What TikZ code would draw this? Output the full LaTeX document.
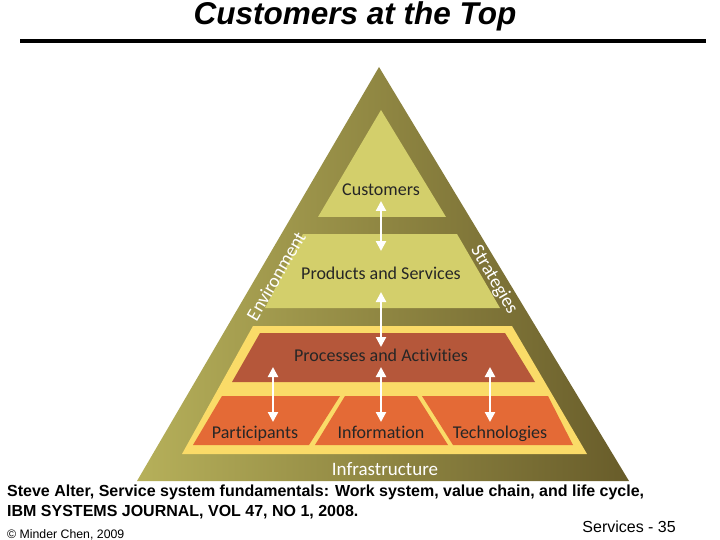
\documentclass[tikz,border=0pt]{standalone}
\usepackage{fontspec}
\setmainfont{Liberation Sans}
\newfontfamily\pyrfont[Ligatures=NoCommon]{Carlito}
\usetikzlibrary{arrows.meta}
\definecolor{oliveL}{HTML}{B6B05A}
\definecolor{oliveD}{HTML}{685C2A}
\definecolor{paleolive}{HTML}{D3CF6B}
\definecolor{bandyellow}{HTML}{FADB68}
\definecolor{procred}{HTML}{B5573A}
\definecolor{partorange}{HTML}{E46A36}
\tikzset{
  lbl/.style={font=\pyrfont\fontsize{18}{20}\selectfont, text=black!85, inner sep=0pt, anchor=base},
  sidelbl/.style={font=\pyrfont\fontsize{19}{21}\selectfont, text=white, inner sep=0pt},
  biarrow/.style={white, line width=2.2pt, {Triangle[width=10pt,length=10pt]}-{Triangle[width=10pt,length=10pt]}},
  footnote/.style={anchor=base west, inner sep=0pt, font=\bfseries\fontsize{16}{18}\selectfont},
}

\begin{document}
\begin{tikzpicture}[x=1pt,y=-1pt]
  \useasboundingbox (0,0) rectangle (720,540);

  % title and rule
  \node (title) at (355,16) {\fontsize{31.5}{34}\selectfont\bfseries\itshape Customers at the Top};
  \draw[line width=4pt] (20,41) -- (706,41);

  % pyramid frame
  \shade[left color=oliveL, right color=oliveD] (379,67) -- (629,481) -- (137,481) -- cycle;

  % upper levels
  \fill[paleolive] (381,110) -- (446,217) -- (318,217) -- cycle;
  \fill[paleolive] (303,234) -- (457,234) -- (500,308) -- (265,308) -- cycle;

  % work system
  \fill[bandyellow] (253,326) -- (512,326) -- (587,454) -- (182,454) -- cycle;
  \fill[procred] (260,333) -- (505,333) -- (535,382) -- (232,382) -- cycle;
  \fill[partorange] (222,396) -- (340,396) -- (309,445) -- (193,445) -- cycle;
  \fill[partorange] (345,396) -- (417,396) -- (448,445) -- (315,445) -- cycle;
  \fill[partorange] (422,396) -- (548,396) -- (573,445) -- (453,445) -- cycle;

  % labels
  \node[lbl] (cust) at (381,196) {Customers};
  \node[lbl] (prod) at (381,279) {Products and Services};
  \node[lbl] (proc) at (381,361) {Processes and Activities};
  \node[lbl] (part) at (255,438) {Participants};
  \node[lbl] (info) at (381,438) {Information};
  \node[lbl] (tech) at (500,438) {Technologies};
  \node[sidelbl, anchor=base] (infra) at (385,475) {Infrastructure};
  \node[sidelbl, rotate=59.7] (env) at (276,276) {Environment};
  \node[sidelbl, rotate=-59.7] (strat) at (494,280) {Strategies};

  % arrows
  \coordinate (custlo) at (381,201);
  \coordinate (prodhi) at (381,251);
  \coordinate (prodlo) at (381,292);
  \coordinate (prochi) at (381,347);
  \coordinate (partup) at (273,367);
  \coordinate (partdn) at (273,422);
  \coordinate (infoup) at (381,367);
  \coordinate (infodn) at (381,422);
  \coordinate (techup) at (490,367);
  \coordinate (techdn) at (490,422);
  \draw[biarrow] (custlo) -- (prodhi);
  \draw[biarrow] (prodlo) -- (prochi);
  \draw[biarrow] (partup) -- (partdn);
  \draw[biarrow] (infoup) -- (infodn);
  \draw[biarrow] (techup) -- (techdn);

  % source and footer
  \node[footnote] (src1) at (7,496) {Steve Alter, Service system fundamentals: Work system, value chain, and life cycle,};
  \node[footnote] (src2) at (7,516) {IBM SYSTEMS JOURNAL, VOL 47, NO 1, 2008.};
  \node[anchor=base west, inner sep=0pt, font=\fontsize{12.3}{14}\selectfont] (copy) at (7,538) {\textcopyright\ Minder Chen, 2009};
  \node[anchor=base east, inner sep=0pt, font=\fontsize{16}{18}\selectfont] (page) at (676,532) {Services - 35};
\end{tikzpicture}
\end{document}
